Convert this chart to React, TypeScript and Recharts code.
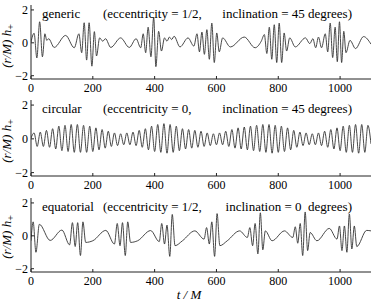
import React from "react";
import { LineChart, Line, XAxis, YAxis } from "recharts";

const tTicks = [0, 200, 400, 600, 800, 1000];
const hTicks = [-2, 0, 2];

// generic orbit: extrema
const genericT = [
  0, 10, 19, 28, 37, 45, 51, 57, 75, 112, 140,
  155, 164, 172, 180, 188, 197, 205, 212, 222, 232, 241, 258, 290, 318, 340,
  355, 363, 371, 379, 388, 397, 404, 413, 422, 432, 440, 448, 455, 463, 482, 508, 527,
  537, 545, 553, 561, 569, 577, 585, 593, 601, 609, 620, 645, 690, 725, 745,
  755, 763, 771, 779, 787, 795, 803, 811, 819, 827, 837, 855, 888, 902, 912, 921, 930, 940,
  952, 960, 968, 976, 984, 991, 998, 1005, 1012, 1019, 1032, 1050, 1076, 1100,
];
const genericH = [
  0.05, 0.58, -0.92, 1.28, -0.85, 0.55, 0.15, 0.25, -0.28, 0.45, -0.3,
  0.55, -0.6, 1.22, -1.05, 1.22, -1.42, 0.68, -0.8, 0.3, 0.1, 0.25, -0.28, 0.3, -0.28, 0.25,
  -0.3, 0.55, -0.6, 0.95, -0.85, 1.55, -1.45, 0.7, -0.5, 0.3, 0.1, 0.35, 0.2, 0.4, -0.25, 0.3, -0.2,
  0.55, -0.55, 0.65, -0.7, 0.8, -1.0, 1.2, -1.2, 0.6, -0.55, 0.3, -0.25, 0.35, -0.3, 0.1,
  0.5, -0.65, 0.95, -1.0, 1.1, -1.2, 1.2, -1.2, 0.6, -0.5, 0.3, -0.25, 0.3, -0.05, 0.25, -0.3, 0.35, -0.3,
  0.55, -0.55, 1.2, -0.9, 0.95, -1.15, 1.28, -1.2, 0.7, -0.6, 0.15, -0.35, 0.38, -0.08,
];

// circular orbit
const circularT = [
  0, 10, 20, 30, 40, 50, 60, 70, 80, 90, 100,
  110, 120, 130, 140, 150, 160, 170, 180, 190, 200,
  210, 220, 230, 240, 250, 260, 270, 280, 290, 300,
  310, 320, 330, 340, 350, 360, 370, 380, 390, 400,
  410, 420, 430, 440, 450, 460, 470, 480, 490, 500,
  510, 520, 530, 540, 550, 560, 570, 580, 590, 600,
  610, 620, 630, 640, 650, 660, 670, 680, 690, 700,
  710, 720, 730, 740, 750, 760, 770, 780, 790, 800,
  810, 820, 830, 840, 850, 860, 870, 880, 890, 900,
  910, 920, 930, 940, 950, 960, 970, 980, 990, 1000,
  1010, 1020, 1030, 1040, 1050, 1060, 1070, 1080, 1090, 1100,
];
const circularH = [
  0.05, 0.35, -0.45, 0.4, -0.45, 0.5, -0.5, 0.6, -0.6, 0.75, -0.7,
  0.8, -0.75, 0.85, -0.8, 0.85, -0.8, 0.8, -0.8, 0.75, -0.75,
  0.65, -0.65, 0.55, -0.55, 0.45, -0.45, 0.35, -0.4, 0.3, -0.35,
  0.35, -0.35, 0.4, -0.4, 0.5, -0.5, 0.6, -0.65, 0.75, -0.75,
  0.85, -0.8, 0.9, -0.85, 0.85, -0.8, 0.75, -0.7, 0.6, -0.6,
  0.55, -0.55, 0.5, -0.5, 0.45, -0.45, 0.35, -0.4, 0.3, -0.35,
  0.35, -0.35, 0.45, -0.45, 0.55, -0.55, 0.65, -0.6, 0.7, -0.65,
  0.75, -0.7, 0.8, -0.75, 0.85, -0.8, 0.85, -0.85, 0.8, -0.8,
  0.75, -0.75, 0.65, -0.65, 0.5, -0.5, 0.4, -0.4, 0.35, -0.35,
  0.3, -0.35, 0.35, -0.4, 0.45, -0.5, 0.55, -0.6, 0.65, -0.7,
  0.75, -0.8, 0.8, -0.8, 0.85, -0.85, 0.85, -0.8, 0.8, -0.3,
];

// equatorial orbit
const equatorialT = [
  0, 7, 16, 27, 62, 100,
  125, 134, 143, 151, 160, 168, 177, 200, 242,
  270, 279, 288, 296, 305, 313, 322, 345, 387,
  415, 423, 432, 440, 449, 457, 466, 490, 530,
  560, 568, 577, 585, 594, 602, 611, 635, 675,
  700, 708, 717, 725, 734, 742, 750, 758, 780, 820,
  847, 855, 863, 871, 879, 887, 895, 903, 925, 965,
  990, 998, 1006, 1014, 1022, 1030, 1038, 1046, 1054, 1086, 1100,
];
const equatorialH = [
  -0.3, 0.85, -1.0, 0.7, -0.28, 0.35,
  -0.55, 0.8, -0.65, 0.8, -1.2, 0.85, -0.4, -0.3, 0.33,
  -0.5, 0.75, -0.6, 0.8, -1.2, 0.85, -0.4, -0.3, 0.32,
  -0.35, 0.75, -0.5, 0.65, -1.25, 1.3, -0.6, -0.3, 0.3,
  -0.2, 0.5, -0.5, 0.85, -1.25, 1.35, -0.6, -0.3, 0.3,
  -0.1, 0.5, -0.6, 0.75, -1.1, 1.4, -0.85, 0.3, -0.3, 0.3,
  -0.1, 0.55, -0.45, 0.75, -1.2, 1.45, -0.9, 0.2, -0.3, 0.45,
  -0.2, 0.6, -0.9, 0.6, -1.0, 1.33, -0.8, 0.6, -0.65, 0.33, 0.3,
];

const font = "Liberation Serif";
const tickStyle = { fill: "#000", fontSize: 12, fontFamily: font };

function fmt(v: number) {
  return v < 0 ? "\u2212" + Math.abs(v) : String(v);
}

function Panel({ t, h, top, height, plotTop, axisH }: any) {
  const data = t.map((x: number, i: number) => ({ t: x, h: h[i] }));
  return (
    <div style={{ position: "absolute", left: 0, top }}>
      <LineChart
        width={374}
        height={height}
        data={data}
        margin={{ top: plotTop, right: 3, bottom: 0, left: 0 }}
      >
        <XAxis
          xAxisId="b"
          dataKey="t"
          type="number"
          domain={[0, 1100]}
          ticks={tTicks}
          allowDataOverflow
          height={axisH}
          tickSize={-3}
          tickMargin={7}
          stroke="#222"
          tick={tickStyle}
        />
        <XAxis
          xAxisId="top"
          orientation="top"
          type="number"
          domain={[0, 1100]}
          ticks={tTicks}
          allowDataOverflow
          height={0}
          tickSize={-3}
          tick={false}
          stroke="#222"
        />
        <YAxis
          yAxisId="l"
          type="number"
          domain={[-2.2, 2.3]}
          ticks={hTicks}
          allowDataOverflow
          width={31}
          tickSize={-3}
          tickMargin={6}
          stroke="#222"
          tick={tickStyle}
          tickFormatter={fmt}
        />
        <YAxis
          yAxisId="r"
          orientation="right"
          type="number"
          domain={[-2.2, 2.3]}
          ticks={hTicks}
          allowDataOverflow
          width={0}
          tickSize={-3}
          tick={false}
          stroke="#222"
        />
        <Line
          xAxisId="b"
          yAxisId="l"
          dataKey="h"
          type="monotone"
          dot={false}
          stroke="#333"
          strokeWidth={0.9}
          isAnimationActive={false}
        />
      </LineChart>
    </div>
  );
}

function YLabel({ cy }: { cy: number }) {
  return (
    <text
      transform={`translate(11, ${cy}) rotate(-90)`}
      textAnchor="middle"
      fontStyle="italic"
      fontSize={13}
      fontFamily={font}
      fill="#000"
    >
      (r/M) h<tspan dy={3} fontSize={10} fontStyle="normal">+</tspan>
    </text>
  );
}

function Title({ y, name, ecc, inc }: { y: number; name: string; ecc: string; inc: string }) {
  const common = { fontSize: 13, fontFamily: font, fill: "#000" };
  return (
    <g>
      <text x={42} y={y} {...common}>{name}</text>
      <text x={103} y={y} {...common}>{ecc}</text>
      <text x={352} y={y} textAnchor="end" style={{ whiteSpace: "pre" }} {...common}>{inc}</text>
    </g>
  );
}

export default function App() {
  return (
    <div style={{ position: "absolute", left: 0, top: 0, width: 374, height: 303, background: "#fff" }}>
      <Panel t={genericT} h={genericH} top={0} height={95} plotTop={5} axisH={16} />
      <Panel t={circularT} h={circularH} top={95} height={97} plotTop={5} axisH={16} />
      <Panel t={equatorialT} h={equatorialH} top={192} height={111} plotTop={6} axisH={31} />
      <svg
        width={374}
        height={303}
        style={{ position: "absolute", left: 0, top: 0, pointerEvents: "none" }}
      >
        <Title y={17.5} name="generic" ecc="(eccentricity = 1/2," inc="inclination = 45 degrees)" />
        <Title y={112.5} name="circular" ecc="(eccentricity = 0," inc="inclination = 45 degrees)" />
        <Title y={210.5} name="equatorial" ecc="(eccentricity = 1/2," inc="inclination = 0  degrees)" />
        <YLabel cy={46} />
        <YLabel cy={141} />
        <YLabel cy={237} />
        <text
          x={189}
          y={299}
          textAnchor="middle"
          fontStyle="italic"
          fontSize={13}
          fontFamily={font}
          fill="#000"
        >
          t / M
        </text>
      </svg>
    </div>
  );
}
